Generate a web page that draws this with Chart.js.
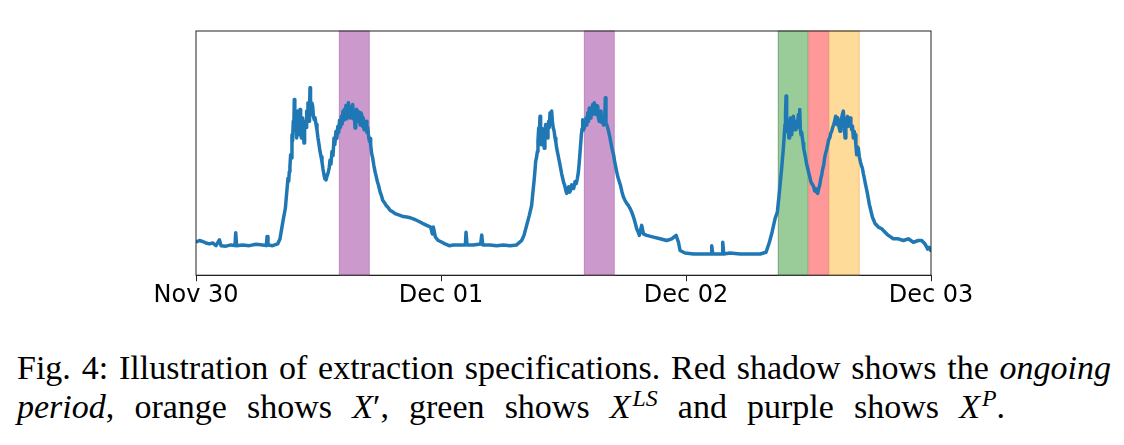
<!DOCTYPE html>
<html>
<head>
<meta charset="utf-8">
<script src="https://cdn.jsdelivr.net/npm/chart.js@4.4.1/dist/chart.umd.min.js"></script>
<style>
  html, body { margin: 0; padding: 0; background: #fff; }
  body { width: 1124px; height: 445px; position: relative; overflow: hidden; }
  #wrap { position: absolute; left: 0; top: 0; width: 1124px; height: 330px; }
  .cap { position: absolute; left: 17px; font-family: "Liberation Serif", "Times New Roman", serif; font-size: 34px; line-height: 39px; color: #000; white-space: nowrap; text-align: justify; text-align-last: justify; }
  .l1 { top: 348px; width: 1094px; }
  .l2 { top: 387px; width: 988px; }
  .cap sup { font-size: 0.7em; font-style: italic; vertical-align: 0.5em; line-height: 0; margin-left: 2px; }
</style>
</head>
<body>
<div id="wrap"><canvas id="chart"></canvas></div>
<div class="cap l1">Fig. 4: Illustration of extraction specifications. Red shadow shows the <i>ongoing</i></div>
<div class="cap l2"><i>period</i>, orange shows <i>X</i>′, green shows <i>X</i><sup>LS</sup> and purple shows <i>X</i><sup>P</sup>.</div>
<script>
// [hours since Nov 30 00:00, load as % of plot height]
const nov30 = [
  [0.00, 13.5], [0.33, 14.2], [0.65, 13.8], [0.98, 13.2], [1.31, 12.8], [1.63, 13.2], [1.96, 12.1], [2.29, 14.5], [2.45, 12.1], [2.94, 11.9],
  [3.43, 12.4], [3.82, 12.1], [3.89, 17.4], [3.98, 12.1], [4.57, 12.4], [5.22, 12.1], [5.88, 12.7], [6.53, 12.4], [6.89, 12.1], [6.96, 15.8],
  [7.05, 12.4], [7.51, 12.1], [8.00, 12.8], [8.23, 14.9], [8.42, 19.7], [8.56, 23.1], [8.75, 27.3], [8.88, 33.5],
  [9.01, 39.7], [9.08, 38.5], [9.14, 42.4], [9.20, 44.5], [9.27, 49.3], [9.33, 48.0], [9.40, 57.5], [9.46, 55.0], [9.53, 63.0], [9.58, 60.0],
  [9.63, 72.0], [9.68, 62.0], [9.73, 60.3], [9.80, 64.5], [9.86, 56.2], [9.91, 62.0], [9.96, 67.2], [10.01, 60.0], [10.06, 57.5], [10.12, 63.0],
  [10.19, 67.9], [10.25, 60.0], [10.32, 56.2], [10.38, 62.0], [10.45, 64.4], [10.51, 58.0], [10.58, 54.1], [10.64, 60.0], [10.71, 63.0], [10.78, 60.5],
  [10.84, 67.2], [10.90, 63.5], [10.97, 70.6], [11.02, 65.0], [11.07, 63.0], [11.12, 68.0], [11.17, 76.8], [11.22, 68.0], [11.27, 65.8], [11.35, 70.5],
  [11.43, 69.2], [11.50, 65.0], [11.59, 63.7], [11.66, 64.5], [11.76, 61.7], [11.85, 59.5], [11.95, 56.2], [12.05, 53.5], [12.15, 50.7], [12.25, 48.5],
  [12.34, 46.5], [12.44, 43.5], [12.54, 41.0], [12.63, 39.5], [12.73, 39.0], [12.83, 40.5], [12.93, 41.7],
  [13.05, 44.0], [13.13, 47.2], [13.22, 45.5], [13.32, 50.7], [13.42, 49.0], [13.52, 56.2], [13.60, 53.5], [13.71, 58.9], [13.80, 56.0], [13.90, 61.0],
  [13.98, 58.5], [14.06, 63.5], [14.15, 60.5], [14.24, 65.1], [14.32, 62.0], [14.40, 67.2], [14.48, 63.5], [14.55, 68.0], [14.60, 64.5], [14.68, 69.5],
  [14.76, 64.0], [14.85, 68.8], [14.93, 70.6], [15.01, 65.0], [15.09, 64.4], [15.16, 69.0], [15.25, 65.5], [15.35, 69.9], [15.42, 64.0], [15.50, 67.5],
  [15.58, 60.3], [15.65, 66.0], [15.74, 67.9], [15.82, 63.0], [15.90, 67.0], [16.00, 64.4], [16.08, 61.5], [16.15, 66.5], [16.23, 65.8], [16.30, 61.0],
  [16.38, 64.5], [16.46, 59.6], [16.55, 62.5], [16.66, 63.0], [16.74, 58.5], [16.82, 60.5], [16.89, 57.5], [16.98, 55.0], [17.05, 56.0], [17.11, 53.4],
  [17.20, 50.0], [17.31, 47.9], [17.42, 45.0], [17.54, 42.4], [17.65, 40.5], [17.77, 38.3], [17.88, 36.8], [18.03, 34.1], [18.15, 32.8], [18.29, 30.7],
  [18.45, 29.8], [18.62, 28.6], [18.80, 27.8], [19.01, 26.6], [19.25, 26.0], [19.50, 25.2], [19.99, 24.5], [20.30, 24.0], [20.64, 23.8], [21.00, 23.5],
  [21.29, 23.1], [21.60, 22.5], [21.95, 21.8], [22.30, 21.0], [22.60, 20.4], [22.99, 19.7], [23.15, 16.9], [23.25, 19.7], [23.45, 15.6], [23.74, 14.2]
];
const dec01 = [
  [24.10, 13.5], [24.40, 12.8], [24.80, 12.1], [25.21, 12.4], [25.87, 12.4], [26.39, 12.4], [26.45, 17.6], [26.55, 12.4], [27.17, 12.4], [27.89, 12.8],
  [27.99, 16.5], [28.09, 12.4], [28.80, 12.4], [29.45, 12.1], [30.11, 12.4], [30.76, 12.1], [31.41, 12.4], [31.90, 14.2], [32.13, 16.3], [32.39, 20.4],
  [32.65, 24.5], [32.88, 28.6], [32.98, 33.0], [33.11, 38.3], [33.19, 42.0], [33.27, 46.5], [33.35, 48.0], [33.44, 50.7], [33.50, 55.0], [33.57, 60.3],
  [33.63, 58.0], [33.70, 65.1], [33.76, 56.0], [33.83, 53.4], [33.90, 60.0], [33.96, 58.9], [34.04, 55.0], [34.12, 52.0], [34.18, 58.0], [34.25, 61.7],
  [34.33, 58.5], [34.42, 56.2], [34.48, 61.0], [34.55, 63.0], [34.61, 60.5], [34.68, 66.5], [34.76, 63.0], [34.84, 67.2], [34.92, 62.5], [35.00, 60.3],
  [35.08, 59.0], [35.17, 56.2], [35.25, 54.5], [35.33, 52.0], [35.43, 50.0], [35.53, 47.9], [35.62, 46.0], [35.72, 43.8], [35.82, 41.5], [35.92, 39.7],
  [36.01, 38.0], [36.11, 36.9], [36.21, 35.0], [36.31, 33.5], [36.41, 35.5], [36.51, 36.2], [36.60, 34.0], [36.70, 34.8], [36.80, 37.0], [36.90, 36.9],
  [37.00, 35.5], [37.13, 38.3], [37.25, 37.5], [37.36, 39.7], [37.45, 42.0], [37.55, 46.5], [37.65, 52.0], [37.75, 57.5], [37.82, 60.0], [37.88, 63.7],
  [37.95, 59.5], [38.04, 60.3], [38.12, 63.0], [38.20, 64.4], [38.28, 61.5], [38.37, 66.5], [38.45, 63.0], [38.53, 68.5], [38.61, 64.5], [38.69, 64.4],
  [38.77, 68.0], [38.86, 69.9], [38.94, 66.0], [39.02, 70.6], [39.10, 67.0], [39.18, 65.8], [39.26, 69.5], [39.35, 69.2], [39.43, 64.0], [39.51, 63.0],
  [39.59, 66.5], [39.67, 67.2], [39.75, 62.5], [39.84, 64.4], [39.92, 61.5], [40.00, 63.0], [40.05, 66.0], [40.10, 72.7], [40.16, 62.0], [40.23, 61.7],
  [40.32, 60.5], [40.42, 58.9], [40.52, 57.0], [40.62, 54.8], [40.72, 52.5], [40.82, 50.7], [40.92, 49.0], [41.01, 46.5], [41.11, 44.5], [41.21, 42.4],
  [41.34, 40.0], [41.47, 38.3], [41.60, 36.5], [41.73, 34.1], [41.87, 32.0], [42.02, 30.7], [42.18, 29.5], [42.35, 28.6], [42.50, 27.5], [42.68, 25.9],
  [42.80, 24.5], [42.91, 23.1], [43.05, 21.0], [43.17, 19.0], [43.30, 17.8], [43.43, 16.3], [43.50, 17.6], [43.66, 20.4], [43.83, 16.9], [44.15, 16.3],
  [44.81, 15.6], [45.46, 14.9], [46.11, 14.2], [46.60, 14.9], [47.03, 16.3], [47.26, 13.5], [47.42, 10.1], [47.91, 9.1]
];
const dec02 = [
  [48.72, 8.7], [49.70, 8.7], [50.46, 8.7], [50.52, 12.1], [50.62, 8.7], [51.34, 8.7], [51.53, 8.7], [51.60, 13.5], [51.70, 8.7], [52.32, 9.1],
  [53.30, 8.7], [54.28, 8.7], [55.26, 8.7], [55.84, 9.4], [56.17, 13.5], [56.43, 17.6], [56.72, 23.1], [56.95, 25.9], [57.15, 34.1], [57.34, 42.4],
  [57.54, 52.0], [57.62, 57.0], [57.70, 61.7], [57.75, 66.0], [57.80, 73.4], [57.84, 66.0], [57.88, 58.9], [57.92, 62.0], [57.96, 63.0], [58.02, 59.0],
  [58.09, 56.2], [58.15, 61.0], [58.22, 64.4], [58.28, 60.0], [58.35, 57.5], [58.43, 62.0], [58.52, 65.1], [58.60, 62.0], [58.68, 59.6], [58.76, 61.5],
  [58.84, 63.0], [58.92, 60.5], [59.01, 65.8], [59.08, 62.0], [59.14, 67.9], [59.20, 60.0], [59.27, 57.5], [59.33, 58.5], [59.40, 56.2], [59.47, 54.0],
  [59.53, 52.0], [59.62, 50.0], [59.72, 47.9], [59.82, 45.5], [59.92, 43.8], [60.02, 42.0], [60.12, 40.3], [60.22, 38.5], [60.31, 37.6], [60.41, 37.0],
  [60.51, 36.2], [60.60, 34.5], [60.70, 35.5], [60.80, 34.0], [60.90, 33.5], [61.00, 35.5], [61.10, 36.9], [61.20, 39.5], [61.29, 41.0], [61.39, 43.5],
  [61.49, 45.2], [61.58, 48.0], [61.68, 50.0], [61.78, 51.5], [61.88, 53.4], [61.98, 55.5], [62.08, 56.2], [62.17, 58.0], [62.27, 58.9], [62.37, 60.5],
  [62.47, 61.7], [62.56, 63.0], [62.66, 65.1], [62.72, 62.0], [62.79, 61.7], [62.86, 64.5], [62.92, 63.0], [63.00, 60.5], [63.09, 58.9], [63.17, 62.5],
  [63.25, 64.4], [63.33, 66.0], [63.41, 67.2], [63.50, 62.0], [63.58, 56.2], [63.66, 60.0], [63.74, 63.0], [63.82, 65.0], [63.90, 61.0], [63.98, 62.5],
  [64.07, 64.4], [64.15, 61.5], [64.23, 59.6], [64.31, 61.0], [64.39, 56.2], [64.47, 59.0], [64.56, 57.5], [64.64, 53.5], [64.72, 49.3], [64.80, 52.5],
  [64.88, 52.0], [64.98, 48.5], [65.08, 46.5], [65.18, 45.0], [65.28, 43.8], [65.38, 41.5], [65.47, 39.7], [65.57, 37.5], [65.67, 35.5], [65.77, 33.5],
  [65.86, 31.4], [65.96, 29.0], [66.06, 27.3], [66.16, 25.5], [66.26, 23.8], [66.39, 22.5], [66.52, 21.1], [66.68, 20.5], [66.84, 19.7], [67.17, 19.0],
  [67.50, 17.6], [67.82, 16.3], [68.31, 14.9], [68.80, 14.9], [69.29, 14.2], [69.78, 14.9], [70.27, 13.5], [70.76, 14.2], [71.09, 14.2], [71.41, 12.8],
  [71.68, 10.7], [71.81, 11.4], [71.97, 10.1], [72.00, 10.1]
];

const tickHours = [0, 24, 48, 72];
const tickLabels = ['Nov 30', 'Dec 01', 'Dec 02', 'Dec 03'];

// shaded windows (hours): purple X^P, green X^LS, red ongoing period, orange X'
const bandStart = [14, 38, 57, 60, 62];
const bandEnd = [17, 41, 60, 62, 65];
const bandFill = ['#cc99cc', '#cc99cc', '#99cc99', '#ff9999', '#ffdb99'];
const bandEdge = ['#c28ac2', '#c28ac2', '#7fa87f', '#f28a8a', '#f7c97f'];

const points = [...nov30, ...dec01, ...dec02].map(([h, v]) => ({ x: h, y: v }));

const bandsPlugin = {
  id: 'bands',
  beforeDatasetsDraw(chart) {
    const { ctx, chartArea, scales } = chart;
    ctx.save();
    bandStart.forEach((s, i) => {
      const x0 = scales.x.getPixelForValue(s);
      const x1 = scales.x.getPixelForValue(bandEnd[i]);
      ctx.fillStyle = bandFill[i];
      ctx.fillRect(x0, chartArea.top, x1 - x0, chartArea.bottom - chartArea.top);
      ctx.strokeStyle = bandEdge[i];
      ctx.lineWidth = 1;
      ctx.strokeRect(x0 + 0.5, chartArea.top, x1 - x0 - 1, chartArea.bottom - chartArea.top);
    });
    ctx.restore();
  },
  afterDraw(chart) {
    const { ctx, chartArea } = chart;
    ctx.save();
    ctx.strokeStyle = '#222';
    ctx.lineWidth = 1;
    ctx.strokeRect(chartArea.left, chartArea.top, chartArea.right - chartArea.left, chartArea.bottom - chartArea.top);
    ctx.restore();
  }
};

new Chart(document.getElementById('chart'), {
  type: 'line',
  data: {
    datasets: [{
      data: points,
      borderColor: '#1f77b4',
      borderWidth: 3.5,
      borderJoinStyle: 'round',
      pointRadius: 0,
      tension: 0,
      fill: false
    }]
  },
  options: {
    responsive: true,
    maintainAspectRatio: false,
    animation: false,
    layout: { padding: { left: 196, right: 193, top: 31, bottom: 20 } },
    plugins: { legend: { display: false }, tooltip: { enabled: false } },
    scales: {
      x: {
        type: 'linear',
        min: 0,
        max: 72,
        afterBuildTicks: (axis) => { axis.ticks = tickHours.map((v) => ({ value: v })); },
        ticks: {
          callback: (v) => tickLabels[tickHours.indexOf(v)],
          font: { family: 'DejaVu Sans', size: 24 },
          color: '#000',
          padding: 0,
          maxRotation: 0,
          autoSkip: false
        },
        grid: { drawOnChartArea: false, drawTicks: true, tickLength: 6, color: '#222', tickWidth: 1 },
        border: { display: true, color: '#222' }
      },
      y: {
        display: false,
        min: 0,
        max: 100
      }
    }
  },
  plugins: [bandsPlugin]
});
</script>
</body>
</html>
